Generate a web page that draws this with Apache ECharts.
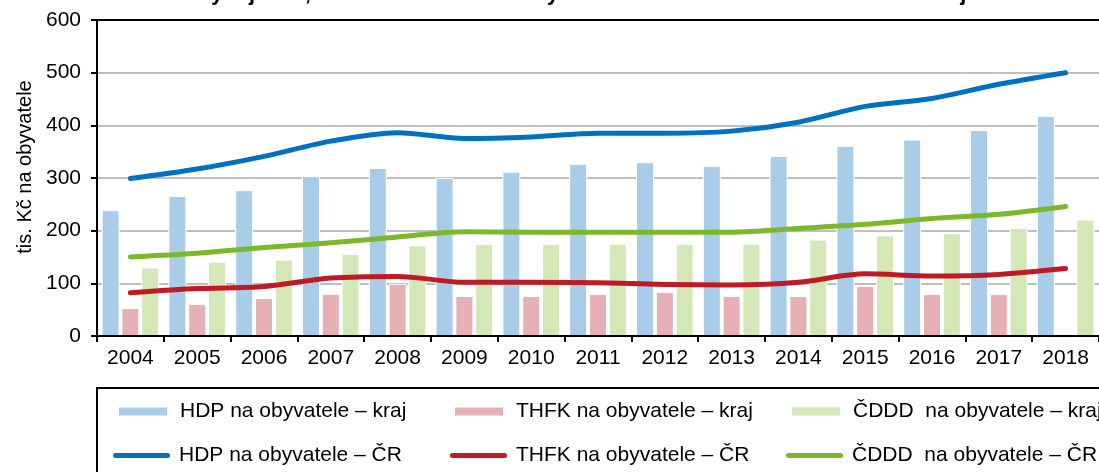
<!DOCTYPE html>
<html>
<head>
<meta charset="utf-8">
<script src="https://cdn.jsdelivr.net/npm/echarts@6/dist/echarts.min.js"></script>
<style>
  html, body { margin: 0; padding: 0; background: #fff; }
  #chart { width: 1099px; height: 472px; }
</style>
</head>
<body>
<div id="chart"></div>
<script>
const titleText = 'Graf 4 Vývoj HDP, THFK a ČDDD na 1 obyvatele v ČR a v Moravskoslezském kraji';
const yAxisName = 'tis. Kč na obyvatele';
const categories = ['2004','2005','2006','2007','2008','2009','2010','2011','2012','2013','2014','2015','2016','2017','2018'];
const yTicks = [0, 100, 200, 300, 400, 500, 600];

const seriesNames = [
  'HDP na obyvatele – kraj',
  'THFK na obyvatele – kraj',
  'ČDDD  na obyvatele – kraj',
  'HDP na obyvatele – ČR',
  'THFK na obyvatele – ČR',
  'ČDDD  na obyvatele – ČR'
];

const hdpKraj  = [239, 266, 277, 304, 319, 300, 312, 327, 330, 323, 342, 361, 373, 391, 418];
const thfkKraj = [53, 61, 72, 80, 99, 76, 76, 80, 84, 76, 76, 95, 80, 80, null];
const cdddKraj = [130, 141, 145, 156, 172, 175, 175, 175, 175, 175, 183, 191, 195, 205, 221];
const hdpCR    = [299, 317, 341, 370, 386, 375, 378, 385, 385, 389, 406, 436, 451, 478, 500];
const thfkCR   = [82, 90, 94, 110, 113, 102, 102, 101, 98, 97, 102, 118, 114, 117, 128];
const cdddCR   = [150, 157, 168, 177, 188, 198, 197, 197, 197, 197, 204, 212, 223, 231, 246];

const colors = ['#a9cde8', '#e6b0b5', '#d3e7b7', '#0070c0', '#c01a24', '#7ab929'];
const FONT = "'Liberation Sans', Arial, sans-serif";

const chart = echarts.init(document.getElementById('chart'), null, { renderer: 'canvas' });

function barSeries(i, data) {
  return {
    name: seriesNames[i], type: 'bar', data: data,
    xAxisIndex: 0, yAxisIndex: 0,
    barWidth: 18, barGap: '10%',
    itemStyle: { color: colors[i], borderColor: '#ffffff', borderWidth: 1 },
    z: 2
  };
}
function lineSeries(i, data) {
  return {
    name: seriesNames[i], type: 'line', data: data,
    xAxisIndex: 0, yAxisIndex: 0,
    symbol: 'none', smooth: 0.3,
    itemStyle: { color: colors[i] },
    lineStyle: { color: colors[i], width: 5, cap: 'round', join: 'round' },
    z: 3
  };
}

const capsule = 'path://M2.5,0 L54.5,0 A2.5,2.5 0 0 1 54.5,5 L2.5,5 A2.5,2.5 0 0 1 2.5,0 Z';
const colLeftBar = [117, 453, 790];
const colLeftLine = [113, 450, 786];
const legends = [];
for (let c = 0; c < 3; c++) {
  legends.push({
    data: [{ name: seriesNames[c], icon: 'rect' }],
    left: colLeftBar[c], top: 401, padding: 0,
    itemWidth: 50, itemHeight: 10,
    textStyle: { fontSize: 21, color: '#000', fontFamily: FONT, padding: [0, 0, 0, 7] }
  });
  legends.push({
    data: [{ name: seriesNames[c + 3], icon: capsule }],
    left: colLeftLine[c], top: 445, padding: 0,
    itemWidth: 57, itemHeight: 5,
    textStyle: { fontSize: 21, color: '#000', fontFamily: FONT, padding: [0, 0, 0, 4] }
  });
}

const option = {
  animation: false,
  backgroundColor: '#ffffff',
  textStyle: { fontFamily: FONT },
  title: {
    text: titleText, left: 'center', top: -17, padding: 0,
    textStyle: { fontSize: 22, fontWeight: 'bold', color: '#000', fontFamily: FONT }
  },
  legend: legends,
  grid: { left: 97, top: 20, width: 1009, height: 316, containLabel: false },
  xAxis: [
    {
      type: 'category', data: categories, position: 'bottom', z: 5,
      axisLine: { show: true, lineStyle: { color: '#000', width: 2 } },
      axisTick: { show: true, length: 6, lineStyle: { color: '#000', width: 2 } },
      axisLabel: { fontSize: 21, color: '#000', margin: 12, interval: 0, fontFamily: FONT },
      splitLine: { show: false }
    },
    {
      type: 'category', data: categories, position: 'top', z: 5,
      axisLine: { show: true, lineStyle: { color: '#000', width: 2 } },
      axisTick: { show: false }, axisLabel: { show: false }, splitLine: { show: false }
    }
  ],
  yAxis: {
    type: 'value', min: yTicks[0], max: yTicks[yTicks.length - 1], interval: 100,
    name: yAxisName, nameLocation: 'middle', nameGap: 62,
    nameTextStyle: { fontSize: 20, color: '#000', fontFamily: FONT, padding: [0, 0, 0, 22] },
    axisLine: { show: true, lineStyle: { color: '#000', width: 2 } },
    axisTick: { show: true, length: 6, lineStyle: { color: '#000', width: 2 } },
    axisLabel: { fontSize: 21, color: '#000', margin: 16, fontFamily: FONT },
    splitLine: { show: true, lineStyle: { color: '#bfbfbf', width: 2 } }
  },
  graphic: [{
    type: 'rect', silent: true, z: 0,
    shape: { x: 97, y: 388, width: 1020, height: 120 },
    style: { fill: 'none', stroke: '#000', lineWidth: 2 }
  }],
  series: [
    barSeries(0, hdpKraj),
    barSeries(1, thfkKraj),
    barSeries(2, cdddKraj),
    lineSeries(3, hdpCR),
    lineSeries(4, thfkCR),
    lineSeries(5, cdddCR)
  ]
};
chart.setOption(option);
</script>
</body>
</html>
